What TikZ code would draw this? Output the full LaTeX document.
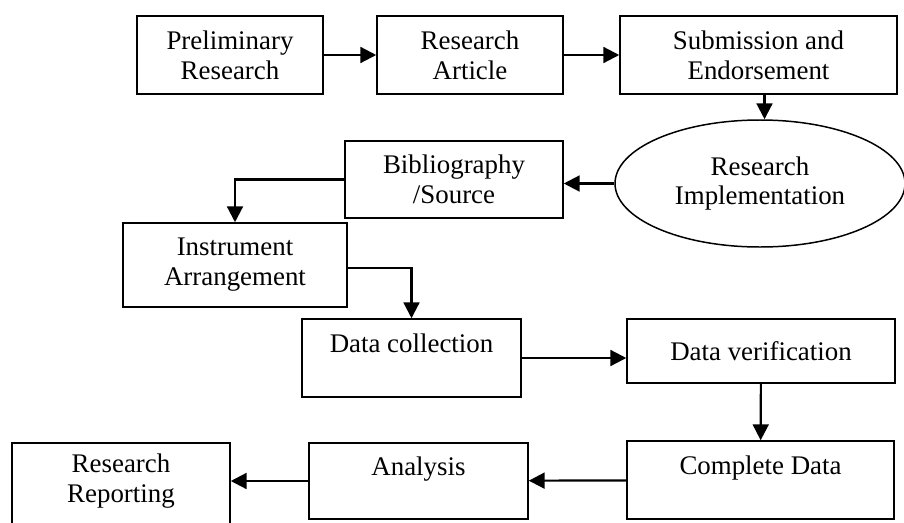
\documentclass[tikz,border=0pt]{standalone}
\usepackage{fontspec}
\setmainfont{Liberation Serif}
\usetikzlibrary{arrows.meta,shapes.geometric}
\tikzset{
  box/.style={draw, line width=0.85pt, rectangle, align=center, inner sep=0pt,
    font=\fontsize{15.3}{17}\selectfont},
  oval/.style={box, ellipse},
  arr/.style={line width=1.25pt, -{Triangle[length=9pt,width=9pt]}}
}

\begin{document}
\begin{tikzpicture}
         \useasboundingbox (0, 0) rectangle (18.08, 10.44);
         \node [box, minimum width=3.72cm, minimum height=1.56cm] (PR) at (4.6, 9.34) {Preliminary\\Research};
         \node [box, minimum width=3.72cm, minimum height=1.56cm] (RA) at (9.4, 9.34) {Research\\Article};
         \node [box, minimum width=5.54cm, minimum height=1.56cm] (SE) at (15.17, 9.34) {Submission and\\Endorsement};
         \node [oval, minimum width=5.8cm, minimum height=2.54cm] (RI) at (15.2, 6.77) {Research\\Implementation};
         \node [box, minimum width=4.36cm, minimum height=1.54cm] (BS) at (9.08, 6.85) {Bibliography\\/Source};
         \node [box, minimum width=4.48cm, minimum height=1.68cm] (IA) at (4.7, 5.14) {Instrument\\Arrangement};
         \node [box, minimum width=4.38cm, minimum height=1.56cm] (DC) at (8.23, 3.28) {Data collection\\\mbox{}};
         \node [box, minimum width=5.36cm, minimum height=1.28cm] (DV) at (15.22, 3.42) {Data verification};
         \node [box, minimum width=5.34cm, minimum height=1.56cm] (CD) at (15.21, 0.84) {Complete Data\\\mbox{}};
         \node [box, minimum width=4.38cm, minimum height=1.52cm] (AN) at (8.37, 0.82) {Analysis\\\mbox{}};
         \node [box, minimum width=4.36cm, minimum height=2.0cm] (RR) at (2.42, 0.58) {Research\\Reporting\\\mbox{}};
         \draw [arr] (PR) -- (RA);
         \draw [arr] (RA) -- (SE);
         \draw [arr] ([xshift=0.12cm] SE.south) -- ([xshift=0.12cm] SE.south |- RI.north);
         \draw [arr] (RI.west) -- (RI.west -| BS.east);
         \draw [arr] (BS.west) -| (IA.north);
         \draw [arr] ([yshift=-0.06cm] IA.east) -| (DC.north);
         \draw [arr] (DC.east) -- (DC.east -| DV.west);
         \draw [arr] (DV) -- (CD);
         \draw [arr] (CD) -- (AN);
         \draw [arr] (AN.west) -- (AN.west -| RR.east);
\end{tikzpicture}
\end{document}
